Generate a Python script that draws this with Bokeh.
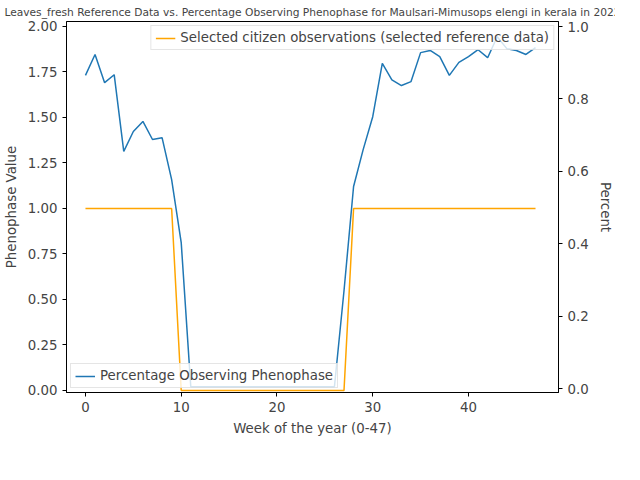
from bokeh.plotting import figure
from bokeh.models import Range1d, LinearAxis, Legend, LegendItem, PrintfTickFormatter
from bokeh.embed import file_html
from bokeh.resources import INLINE

weeks = list(range(48))
percent = [0.865, 0.923, 0.845, 0.867, 0.655, 0.710, 0.738, 0.688, 0.693, 0.577,
           0.403, 0.005, 0.005, 0.005, 0.005, 0.005, 0.005, 0.005, 0.005, 0.005,
           0.005, 0.005, 0.005, 0.005, 0.005, 0.005, 0.005, 0.27, 0.558, 0.660,
           0.751, 0.898, 0.853, 0.837, 0.848, 0.928, 0.934, 0.917, 0.865, 0.901,
           0.917, 0.936, 0.914, 0.972, 0.939, 0.934, 0.923, 0.942]
reference = [1] * 10 + [0] * 18 + [1] * 20

title = ("Leaves_fresh Reference Data vs. Percentage Observing Phenophase "
         "for Maulsari-Mimusops elengi in kerala in 2022")

p = figure(frame_width=492, frame_height=371, output_backend="svg", toolbar_location=None,
           title=title, x_range=Range1d(-1.98, 49.4), y_range=Range1d(-0.011, 2.027),
           min_border_left=10, min_border_right=10, min_border_top=10, min_border_bottom=10,
           x_axis_label="Week of the year (0-47)", y_axis_label="Phenophase Value")
p.title.align = "center"
p.title.text_font_size = "8pt"
p.title.text_font_style = "normal"
p.title.text_font = "DejaVu Sans"
p.title.standoff = 6
p.extra_y_ranges = {"pct": Range1d(-0.011, 1.014)}
ax2 = LinearAxis(y_range_name="pct", axis_label="Percent")
p.add_layout(ax2, "right")
p.grid.visible = False
p.outline_line_color = "black"

for ax in p.axis:
    ax.axis_label_text_font = "DejaVu Sans"
    ax.axis_label_text_font_size = "10pt"
    ax.axis_label_text_font_style = "normal"
    ax.major_label_text_font = "DejaVu Sans"
    ax.major_label_text_font_size = "10pt"
    ax.minor_tick_line_color = None
    ax.major_tick_out = 4
    ax.major_tick_in = 0
    ax.axis_label_standoff = 6
p.xaxis.ticker = [0, 10, 20, 30, 40]
p.yaxis[0].ticker = [0, 0.25, 0.5, 0.75, 1.0, 1.25, 1.5, 1.75, 2.0]
p.yaxis[0].formatter = PrintfTickFormatter(format="%.2f")
ax2.ticker = [0, 0.2, 0.4, 0.6, 0.8, 1.0]
ax2.formatter = PrintfTickFormatter(format="%.1f")

r1 = p.line(weeks, reference, color="orange", line_width=1.5)
r2 = p.line(weeks, percent, color="#1f77b4", line_width=1.5, y_range_name="pct")

for items, loc in [([LegendItem(label="Selected citizen observations (selected reference data)", renderers=[r1])], "top_right"),
                   ([LegendItem(label="Percentage Observing Phenophase", renderers=[r2])], "bottom_left")]:
    lg = Legend(items=items, location=loc, label_text_font="DejaVu Sans",
                label_text_font_size="10pt", border_line_color="#cccccc",
                background_fill_alpha=0.8,
                margin=4, padding=4, spacing=0, label_height=14, glyph_height=14)
    p.add_layout(lg, "center")

open("out.html", "w").write(file_html(p, INLINE))
